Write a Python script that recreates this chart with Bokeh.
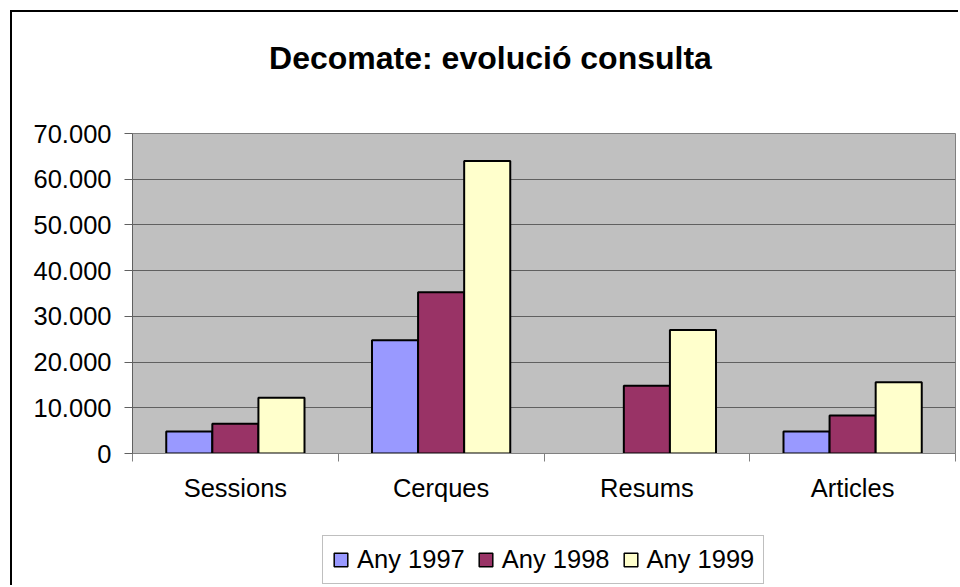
from bokeh.plotting import figure
from bokeh.layouts import column
from bokeh.models import (Range1d, FixedTicker, Legend, LegendItem, Label,
                          ColumnDataSource)
from bokeh.embed import file_html
from bokeh.resources import INLINE

# ---- data ----
categories = ["Sessions", "Cerques", "Resums", "Articles"]
series_names = ["Any 1997", "Any 1998", "Any 1999"]
any_1997 = [4800, 24800, 0, 4800]
any_1998 = [6500, 35300, 14800, 8300]
any_1999 = [12200, 64000, 27000, 15600]
y_ticks = [0, 10000, 20000, 30000, 40000, 50000, 60000, 70000]
title_text = "Decomate: evolució consulta"

colors = ["#9999FF", "#993366", "#FFFFCC"]
FONT = "Liberation Sans"
W = 948

# ---------- title strip ----------
t = figure(width=W, height=60, output_backend="svg", toolbar_location=None,
           x_axis_type=None, y_axis_type=None, min_border=0,
           x_range=Range1d(0, 1), y_range=Range1d(0, 1))
t.styles = {"margin-left": "10px", "margin-top": "10px",
            "border-left": "2px solid black", "border-top": "2px solid black"}
t.outline_line_color = None
t.background_fill_color = "white"
t.border_fill_color = "white"
t.xgrid.visible = False
t.ygrid.visible = False
t.add_layout(Label(x=358, y=15, x_units="screen", y_units="screen",
                   text=title_text, text_font=FONT, text_font_size="32px",
                   text_font_style="bold", text_align="center",
                   text_baseline="middle", text_color="black"))

# ---------- main chart ----------
p = figure(frame_width=821, frame_height=320, output_backend="svg",
           toolbar_location=None,
           x_range=Range1d(0, len(categories)), y_range=Range1d(0, 70000),
           min_border_left=120, min_border_right=7, min_border_top=63,
           min_border_bottom=59)
p.styles = {"margin-left": "10px", "border-left": "2px solid black"}
p.background_fill_color = "#C0C0C0"
p.border_fill_color = "white"
p.outline_line_color = "#808080"
p.outline_line_width = 1

centers = [i + 0.5 for i in range(len(categories))]
bw = 0.224
offsets = [-bw, 0.0, bw]
for vals, off, col in zip([any_1997, any_1998, any_1999], offsets, colors):
    src = ColumnDataSource(dict(x=[c + off for c in centers], top=vals,
                                la=[0.0 if v == 0 else 1.0 for v in vals]))
    p.vbar(x="x", top="top", bottom=0, width=bw, source=src,
           fill_color=col, line_color="black", line_width=2, line_alpha="la")

# grid
p.xgrid.visible = False
p.ygrid.ticker = FixedTicker(ticks=y_ticks)
p.ygrid.grid_line_color = "#606060"
p.ygrid.grid_line_width = 1

# x axis
xa = p.xaxis[0]
xa.ticker = FixedTicker(ticks=centers, minor_ticks=list(range(len(categories) + 1)))
xa.major_label_overrides = {c: name for c, name in zip(centers, categories)}
xa.major_tick_line_color = None
xa.minor_tick_in = 0
xa.minor_tick_out = 8
xa.minor_tick_line_color = "#808080"
xa.axis_line_color = "#808080"
xa.major_label_text_font = FONT
xa.major_label_text_font_size = "25.5px"
xa.major_label_text_color = "black"
xa.major_label_standoff = 12

# y axis
ya = p.yaxis[0]
ya.ticker = FixedTicker(ticks=y_ticks)
ya.major_label_overrides = {t_: f"{t_:,}".replace(",", ".") for t_ in y_ticks}
ya.major_tick_in = 0
ya.major_tick_out = 8
ya.minor_tick_line_color = None
ya.major_tick_line_color = "#606060"
ya.axis_line_color = "#606060"
ya.major_label_text_font = FONT
ya.major_label_text_font_size = "25.5px"
ya.major_label_text_color = "black"
ya.major_label_standoff = 13

# ---------- legend strip ----------
lg = figure(width=W, height=73, output_backend="svg", toolbar_location=None,
            x_axis_type=None, y_axis_type=None, min_border=0,
            x_range=Range1d(0, 1), y_range=Range1d(0, 1))
lg.styles = {"margin-left": "10px", "border-left": "2px solid black"}
lg.outline_line_color = None
lg.background_fill_color = "white"
lg.border_fill_color = "white"
lg.xgrid.visible = False
lg.ygrid.visible = False
items = []
for n, col in zip(series_names, colors):
    # hidden renderer used only to draw the legend key swatch
    r = lg.vbar(x=[0.5], top=[0.5], width=0.1, fill_color=col,
                line_color="black", line_width=1.5)
    r.visible = False
    items.append(LegendItem(label=n, renderers=[r]))
legend = Legend(items=items, orientation="horizontal", location=(190, 1),
                label_text_font=FONT, label_text_font_size="25.5px",
                label_text_color="black",
                glyph_width=17, glyph_height=17, label_standoff=8,
                spacing=12, padding=9, margin=0,
                border_line_color="#808080", border_line_width=1.5,
                background_fill_color="white", background_fill_alpha=1,
                inactive_fill_alpha=0)
lg.add_layout(legend, "center")

layout = column(t, p, lg, spacing=0)
open("out.html", "w").write(file_html(layout, INLINE))
